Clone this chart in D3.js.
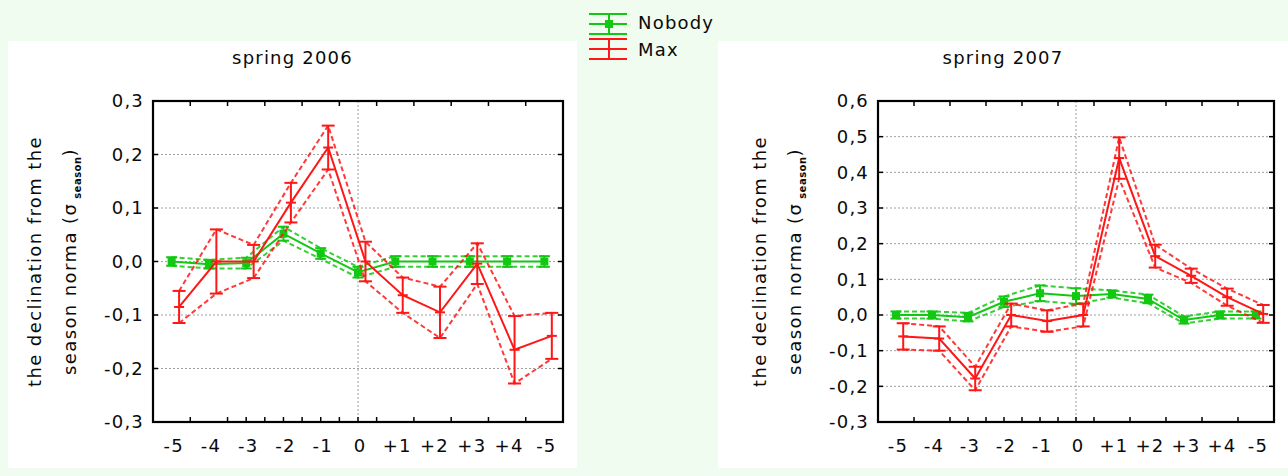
<!DOCTYPE html>
<html>
<head>
<meta charset="utf-8">
<script src="https://cdn.jsdelivr.net/npm/d3@7"></script>
<style>
  body { margin: 0; background: #f1fcf0; }
  svg { display: block; }
  text { font-family: "DejaVu Sans", Verdana, sans-serif; fill: #0a0a0a; }
</style>
</head>
<body>
<script>
// categories on the x axis (the last one really is "-5" again in the original)
var categories = ["-5", "-4", "-3", "-2", "-1", "0", "+1", "+2", "+3", "+4", "-5"];

// spring 2006
var nobody2006 = [0.0, -0.005, -0.003, 0.052, 0.015, -0.02, 0.0, 0.0, 0.0, 0.0, 0.0];
var nobody2006Err = [0.008, 0.008, 0.01, 0.013, 0.01, 0.01, 0.01, 0.01, 0.01, 0.01, 0.01];
var max2006 = [-0.085, 0.0, 0.0, 0.11, 0.213, 0.0, -0.063, -0.095, -0.004, -0.165, -0.139];
var max2006Err = [0.03, 0.06, 0.031, 0.037, 0.041, 0.037, 0.033, 0.048, 0.038, 0.063, 0.043];
var yTicks2006 = [0.3, 0.2, 0.1, 0.0, -0.1, -0.2, -0.3];

// spring 2007
var nobody2007 = [0.0, 0.0, -0.006, 0.037, 0.061, 0.053, 0.059, 0.045, -0.014, 0.0, 0.0];
var nobody2007Err = [0.01, 0.01, 0.012, 0.015, 0.022, 0.022, 0.01, 0.012, 0.01, 0.01, 0.01];
var max2007 = [-0.06, -0.066, -0.178, 0.0, -0.017, 0.0, 0.44, 0.165, 0.11, 0.05, 0.003];
var max2007Err = [0.037, 0.034, 0.033, 0.032, 0.03, 0.032, 0.058, 0.032, 0.02, 0.024, 0.025];
var yTicks2007 = [0.6, 0.5, 0.4, 0.3, 0.2, 0.1, 0.0, -0.1, -0.2, -0.3];

var seriesNames = ["Nobody", "Max"];
var green = "#12c812";
var red = "#ff1616";

var svg = d3.select("body").append("svg")
  .attr("width", 1288)
  .attr("height", 476);

// label format with comma decimal, plain hyphen for minus
function fmt(v) {
  var s = Math.abs(v).toFixed(1).replace(".", ",");
  return (v < -1e-9 ? "-" : "") + s;
}

function drawPanel(p) {
  // white card behind the panel
  svg.append("rect")
    .attr("x", p.card[0]).attr("y", p.card[1])
    .attr("width", p.card[2]).attr("height", p.card[3])
    .attr("fill", "#fff");

  var x = d3.scaleBand().domain(d3.range(categories.length))
    .range([p.left, p.right]);
  var y = d3.scaleLinear().domain([p.yTicks[p.yTicks.length - 1], p.yTicks[0]])
    .range([p.bottom, p.top]);
  var bw = x.bandwidth();
  var cx = function(i, off) { return x(i) + bw / 2 + off * bw; };

  var g = svg.append("g");

  // title
  g.append("text")
    .attr("x", p.card[0] + p.card[2] / 2).attr("y", 64)
    .attr("text-anchor", "middle")
    .style("font-size", "18px").style("letter-spacing", "1.2px")
    .text(p.title);

  // horizontal dotted grid
  g.selectAll(".hgrid").data(p.yTicks.slice(1, -1)).enter().append("line")
    .attr("x1", p.left).attr("x2", p.right)
    .attr("y1", d => y(d)).attr("y2", d => y(d))
    .attr("stroke", "#a0a0a0").attr("stroke-dasharray", "2,2");
  // vertical dotted line at "0"
  g.append("line")
    .attr("x1", cx(5, 0)).attr("x2", cx(5, 0))
    .attr("y1", p.top).attr("y2", p.bottom)
    .attr("stroke", "#a0a0a0").attr("stroke-dasharray", "2,2");

  // ticks on the frame, pointing in
  var yTickIn = p.yTicks.slice(1, -1);
  g.selectAll(".ytl").data(yTickIn).enter().append("line")
    .attr("x1", p.left).attr("x2", p.left + 5)
    .attr("y1", d => y(d)).attr("y2", d => y(d)).attr("stroke", "#000").attr("stroke-width", 1.5);
  g.selectAll(".ytr").data(yTickIn).enter().append("line")
    .attr("x1", p.right - 5).attr("x2", p.right)
    .attr("y1", d => y(d)).attr("y2", d => y(d)).attr("stroke", "#000").attr("stroke-width", 1.5);
  var bounds = d3.range(1, categories.length).map(i => x(i));
  g.selectAll(".xtt").data(bounds).enter().append("line")
    .attr("x1", d => d).attr("x2", d => d)
    .attr("y1", p.top).attr("y2", p.top + 5).attr("stroke", "#000").attr("stroke-width", 1.5);
  var bottomTicks = bounds.concat([2, 3, 4, 5].map(i => cx(i, 0)));
  g.selectAll(".xtb").data(bottomTicks).enter().append("line")
    .attr("x1", d => d).attr("x2", d => d)
    .attr("y1", p.bottom - 5).attr("y2", p.bottom).attr("stroke", "#000").attr("stroke-width", 1.5);

  // y tick labels
  g.selectAll(".ylab").data(p.yTicks).enter().append("text")
    .attr("x", p.left - 9).attr("y", d => y(d)).attr("dy", "0.36em")
    .attr("text-anchor", "end")
    .style("font-size", "18px").style("letter-spacing", "1.2px")
    .text(fmt);

  // x tick labels
  g.selectAll(".xlab").data(categories).enter().append("text")
    .attr("x", (d, i) => cx(i, 0) + 2).attr("y", p.bottom + 30)
    .attr("text-anchor", "middle")
    .style("font-size", "18px").style("letter-spacing", "1.2px")
    .text(d => d);

  // y axis title, two rotated lines
  var midY = (p.top + p.bottom) / 2;
  g.append("text")
    .attr("transform", "translate(" + (p.left - 112) + "," + midY + ") rotate(-90)")
    .attr("text-anchor", "middle")
    .style("font-size", "18px").style("letter-spacing", "1.4px")
    .text("the declination from the");
  var t2 = g.append("text")
    .attr("transform", "translate(" + (p.left - 77) + "," + midY + ") rotate(-90)")
    .attr("text-anchor", "middle")
    .style("font-size", "18px").style("letter-spacing", "1.4px");
  t2.append("tspan").text("season norma (σ");
  t2.append("tspan").attr("dy", 5).style("font-size", "10px").style("font-weight", "bold")
    .style("letter-spacing", "0.5px").text(" season");
  t2.append("tspan").attr("dy", -5).text(")");

  // series
  var series = [
    { vals: p.nobody, err: p.nobodyErr, color: green, off: 0, marker: true },
    { vals: p.max, err: p.maxErr, color: red, off: 0.2, marker: false }
  ];
  series.forEach(function(s) {
    var idx = d3.range(s.vals.length);
    var line = function(fn) {
      return d3.line().x(i => cx(i, s.off)).y(i => y(fn(i)))(idx);
    };
    var sg = g.append("g");
    [function(i) { return s.vals[i] + s.err[i]; }, function(i) { return s.vals[i] - s.err[i]; }]
      .forEach(function(fn) {
        sg.append("path").attr("d", line(fn)).attr("fill", "none")
          .attr("stroke", s.color).attr("stroke-width", 2)
          .attr("stroke-dasharray", "5,3").attr("opacity", 0.85);
      });
    sg.append("path").attr("d", line(i => s.vals[i])).attr("fill", "none")
      .attr("stroke", s.color).attr("stroke-width", 2);
    var cap = s.marker ? 5.5 : 6.5;
    idx.forEach(function(i) {
      var xx = cx(i, s.off), hi = y(s.vals[i] + s.err[i]), lo = y(s.vals[i] - s.err[i]);
      sg.append("line").attr("x1", xx).attr("x2", xx).attr("y1", hi).attr("y2", lo)
        .attr("stroke", s.color).attr("stroke-width", 2);
      [hi, lo].forEach(function(yy) {
        sg.append("line").attr("x1", xx - cap).attr("x2", xx + cap).attr("y1", yy).attr("y2", yy)
          .attr("stroke", s.color).attr("stroke-width", 2);
      });
      if (s.marker) {
        sg.append("rect").attr("x", xx - 4).attr("y", y(s.vals[i]) - 4)
          .attr("width", 8).attr("height", 8).attr("fill", s.color);
      } else {
        sg.append("line").attr("x1", xx - 5).attr("x2", xx + 5)
          .attr("y1", y(s.vals[i])).attr("y2", y(s.vals[i]))
          .attr("stroke", s.color).attr("stroke-width", 2);
      }
    });
  });

  // frame
  g.append("rect")
    .attr("x", p.left).attr("y", p.top)
    .attr("width", p.right - p.left).attr("height", p.bottom - p.top)
    .attr("fill", "none").attr("stroke", "#000").attr("stroke-width", 2.2);
}

drawPanel({
  card: [8, 41, 569, 427], title: "spring 2006",
  left: 153, right: 563, top: 101, bottom: 422, yTicks: yTicks2006,
  nobody: nobody2006, nobodyErr: nobody2006Err, max: max2006, maxErr: max2006Err
});
drawPanel({
  card: [718, 41, 570, 427], title: "spring 2007",
  left: 878, right: 1274, top: 101, bottom: 422, yTicks: yTicks2007,
  nobody: nobody2007, nobodyErr: nobody2007Err, max: max2007, maxErr: max2007Err
});

// legend
var legend = svg.append("g");
[green, red].forEach(function(c, k) {
  var y0 = 14 + k * 25;
  var lg = legend.append("g");
  [0, 10, 20].forEach(function(dy) {
    lg.append("line").attr("x1", 589).attr("x2", 627).attr("y1", y0 + dy).attr("y2", y0 + dy)
      .attr("stroke", c).attr("stroke-width", 2);
  });
  lg.append("line").attr("x1", 609).attr("x2", 609).attr("y1", y0).attr("y2", y0 + 20)
    .attr("stroke", c).attr("stroke-width", 2);
  if (k === 0) {
    lg.append("rect").attr("x", 605).attr("y", y0 + 6).attr("width", 8).attr("height", 8).attr("fill", c);
  }
  legend.append("text").attr("x", 638).attr("y", y0 + 15 + k * 2)
    .style("font-size", "18px").style("letter-spacing", "1.2px")
    .text(seriesNames[k]);
});
</script>
</body>
</html>
